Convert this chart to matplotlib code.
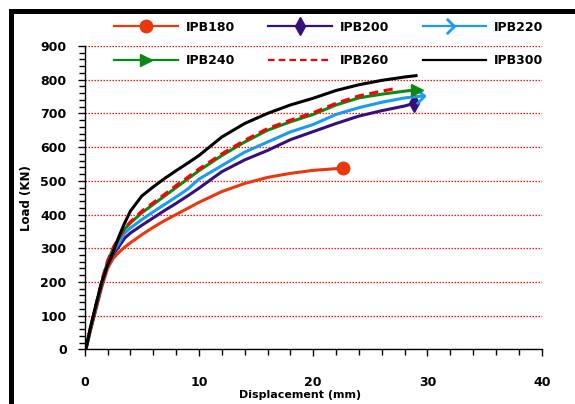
import numpy as np
import matplotlib
matplotlib.use('Agg')
import matplotlib.pyplot as plt
from matplotlib.lines import Line2D
from matplotlib.path import Path
from matplotlib.legend_handler import HandlerLine2D
from matplotlib.ticker import MultipleLocator

# -- Load-displacement curves
x_180 = [0.1, 0.5, 1.0, 1.5, 2.0, 2.5, 3.0, 3.5, 4.0, 5.0, 6.0, 7.0, 8.0, 9.0, 10, 12, 14, 16, 18, 20, 22, 22.6]
y_180 = [0, 55, 120, 185, 240, 270, 288, 303, 316, 340, 362, 382, 400, 418, 436, 468, 492, 510, 522, 531, 536, 537]

x_200 = [0.1, 0.5, 1.0, 1.5, 2.0, 2.5, 3.0, 3.5, 4.0, 5.0, 6.0, 7.0, 8.0, 9.0, 10, 12, 14, 16, 18, 20, 22, 24, 26, 28, 28.85]
y_200 = [0, 58, 125, 195, 250, 282, 305, 330, 345, 368, 390, 412, 433, 455, 478, 527, 562, 590, 622, 646, 670, 692, 708, 722, 730]

x_220 = [0.1, 0.5, 1.0, 1.5, 2.0, 2.5, 3.0, 3.5, 4.0, 5.0, 6.0, 7.0, 8.0, 9.0, 10, 12, 14, 16, 18, 20, 22, 24, 26, 28, 29.7]
y_220 = [0, 60, 128, 198, 255, 290, 315, 345, 360, 385, 408, 430, 452, 475, 505, 545, 585, 615, 645, 667, 697, 717, 733, 746, 752]

x_240 = [0.1, 0.5, 1.0, 1.5, 2.0, 2.5, 3.0, 3.5, 4.0, 5.0, 6.0, 7.0, 8.0, 9.0, 10, 12, 14, 16, 18, 20, 22, 24, 26, 28, 29.1]
y_240 = [0, 60, 130, 200, 260, 300, 330, 357, 375, 405, 430, 455, 480, 505, 530, 575, 615, 650, 675, 697, 725, 746, 757, 766, 770]

x_260 = [0.1, 0.5, 1.0, 1.5, 2.0, 2.5, 3.0, 3.5, 4.0, 5.0, 6.0, 7.0, 8.0, 9.0, 10, 12, 14, 16, 18, 20, 22, 24, 26, 27.4]
y_260 = [0, 62, 132, 205, 262, 302, 332, 360, 378, 410, 435, 460, 486, 510, 535, 580, 620, 655, 680, 702, 730, 752, 766, 775]

x_300 = [0.1, 0.5, 1.0, 1.5, 2.0, 2.5, 3.0, 3.5, 4.0, 5.0, 6.0, 7.0, 8.0, 9.0, 10, 12, 14, 16, 18, 20, 22, 24, 26, 28, 29.0]
y_300 = [0, 65, 135, 200, 250, 290, 335, 375, 410, 455, 482, 507, 530, 552, 575, 630, 670, 700, 725, 745, 768, 785, 798, 808, 812]

nomes = ['IPB180', 'IPB200', 'IPB220', 'IPB240', 'IPB260', 'IPB300']

chevron = Path([(-1, 1), (0, 0), (-1, -1)], [Path.MOVETO, Path.LINETO, Path.LINETO])

estilos = [
    dict(color='#E8380C', marker='o', ms=9),
    dict(color='#36107A', marker='d', ms=9),
    dict(color='#1A9AF0', marker=chevron, ms=11, mfc='none', mew=2),
    dict(color='#0A8A14', marker='>', ms=9),
    dict(color='#FF0000', ls=(0, (3, 1.8))),
    dict(color='black'),
]


# -- Legend handler that puts the marker at the end of the line
class MarcadorFim(HandlerLine2D):
    def get_xdata(self, legend, xdescent, ydescent, width, height, fontsize):
        xdata, _ = super().get_xdata(legend, xdescent, ydescent, width, height, fontsize)
        return xdata, [xdata[-1]]


fig = plt.figure(figsize=(5.75, 4.04), dpi=100)
ax = fig.add_axes([84.7 / 575, 1 - 349.3 / 404, 457 / 575, 303.3 / 404])

dados = [(x_180, y_180), (x_200, y_200), (x_220, y_220),
         (x_240, y_240), (x_260, y_260), (x_300, y_300)]
linhas = []
for (x, y), nome, est in zip(dados, nomes, estilos):
    l, = ax.plot(x, y, lw=2.2, label=nome, markevery=[len(x) - 1], **est)
    linhas.append(l)

ax.set_xlim(0, 40)
ax.set_ylim(0, 900)
ax.xaxis.set_major_locator(MultipleLocator(10))
ax.xaxis.set_minor_locator(MultipleLocator(2))
ax.yaxis.set_major_locator(MultipleLocator(100))
ax.yaxis.set_minor_locator(MultipleLocator(20))
ax.yaxis.grid(True, which='major', color='#FF1000', ls=(0, (1.2, 1.2)), lw=0.9)
ax.set_axisbelow(True)

for lado in ['top', 'right']:
    ax.spines[lado].set_visible(False)
for lado in ['left', 'bottom']:
    ax.spines[lado].set_linewidth(1.0)

ax.tick_params(axis='both', which='major', length=5, width=1, labelsize=9)
ax.tick_params(axis='both', which='minor', length=4.5, width=1)
ax.tick_params(axis='x', which='major', pad=14)
ax.tick_params(axis='y', which='major', pad=8)
for t in ax.get_xticklabels() + ax.get_yticklabels():
    t.set_fontweight('bold')

ax.set_xlabel('Displacement (mm)', fontsize=8, fontweight='bold')
ax.xaxis.set_label_coords(0.471, -0.133)
ax.set_ylabel('Load (KN)', fontsize=8.5, fontweight='bold')
ax.yaxis.set_label_coords(-0.1125, 0.5)

# -- Legend in rows: matplotlib fills by column, so reorder the handles
ordem = [0, 3, 1, 4, 2, 5]
leg = fig.legend(handles=[linhas[i] for i in ordem], ncol=3, loc='upper left',
                 bbox_to_anchor=(114 / 575, 1 - 20.7 / 404), bbox_transform=fig.transFigure,
                 frameon=False, borderpad=0, borderaxespad=0,
                 handlelength=5.1, handletextpad=0.64, columnspacing=2.65, labelspacing=1.63,
                 prop=dict(size=9, weight='bold'),
                 handler_map={Line2D: MarcadorFim()})
for l in leg.get_lines():
    l.set_linewidth(1.6)

# -- Thick black frame at the top and left
fig.add_artist(Line2D([10.5 / 575, 10.5 / 575], [-0.1, 1 - 10.5 / 404], color='black', lw=3.6,
                      transform=fig.transFigure, solid_capstyle='projecting'))
fig.add_artist(Line2D([10.5 / 575, 1.1], [1 - 10.5 / 404, 1 - 10.5 / 404], color='black', lw=3.6,
                      transform=fig.transFigure, solid_capstyle='projecting'))

fig.savefig('out.png', dpi=100)
